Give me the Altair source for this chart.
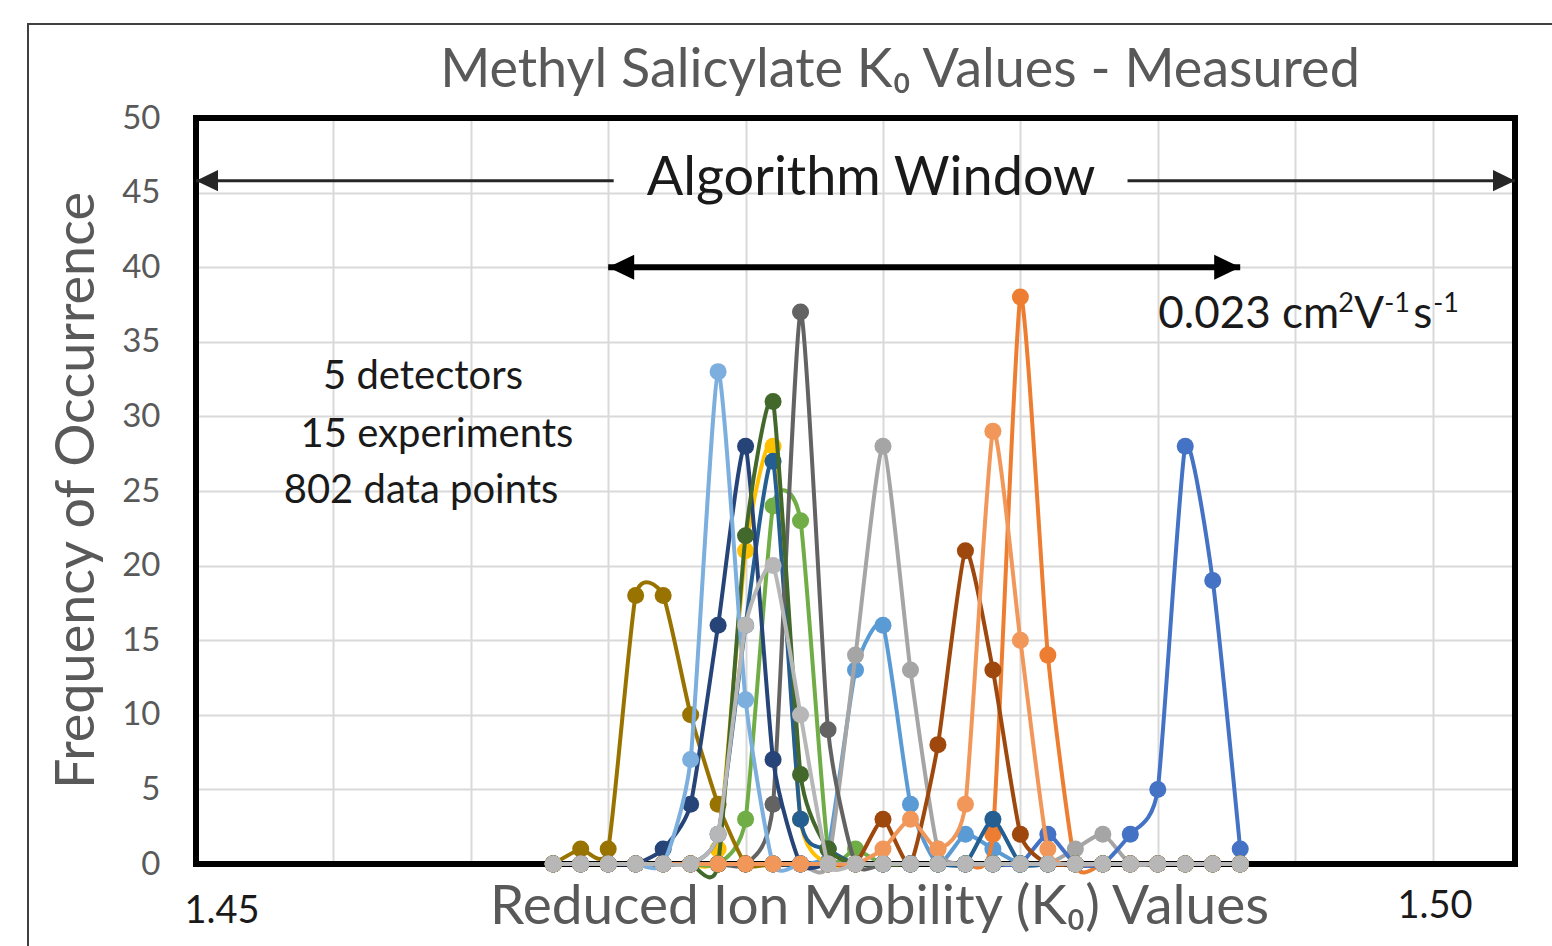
import altair as alt
import pandas as pd

# Reduced ion mobility bins (cm^2 V^-1 s^-1) shared by every run
K0 = [1.463, 1.464, 1.465, 1.466, 1.467, 1.468, 1.469, 1.470, 1.471,
      1.472, 1.473, 1.474, 1.475, 1.476, 1.477, 1.478, 1.479, 1.480,
      1.481, 1.482, 1.483, 1.484, 1.485, 1.486, 1.487, 1.488]

# Frequency of occurrence per bin, one list per experiment
run_01 = [0, 0, 0, 0, 0, 0, 0, 0, 0, 0, 1, 13, 16, 4, 0, 2, 1, 0, 0, 0, 0, 0, 0, 0, 0, 0]
run_02 = [0, 0, 0, 0, 0, 0, 0, 0, 0, 0, 0, 0, 0, 0, 0, 0, 2, 38, 14, 0, 0, 0, 0, 0, 0, 0]
run_03 = [0, 0, 0, 0, 0, 0, 0, 0, 0, 0, 0, 14, 28, 13, 1, 0, 0, 0, 0, 1, 2, 0, 0, 0, 0, 0]
run_04 = [0, 0, 0, 0, 0, 0, 1, 21, 28, 3, 0, 0, 0, 0, 0, 0, 0, 0, 0, 0, 0, 0, 0, 0, 0, 0]
run_05 = [0, 0, 0, 0, 0, 0, 0, 0, 0, 0, 0, 0, 0, 0, 0, 0, 0, 0, 2, 0, 0, 2, 5, 28, 19, 1]
run_06 = [0, 0, 0, 0, 0, 0, 0, 3, 24, 23, 1, 1, 0, 0, 0, 0, 0, 0, 0, 0, 0, 0, 0, 0, 0, 0]
run_07 = [0, 0, 0, 0, 0, 0, 2, 16, 27, 3, 1, 0, 0, 0, 0, 0, 3, 0, 0, 0, 0, 0, 0, 0, 0, 0]
run_08 = [0, 0, 0, 0, 0, 0, 0, 0, 0, 0, 0, 0, 3, 0, 8, 21, 13, 2, 0, 0, 0, 0, 0, 0, 0, 0]
run_09 = [0, 0, 0, 0, 0, 0, 0, 0, 4, 37, 9, 0, 0, 0, 0, 0, 0, 0, 0, 0, 0, 0, 0, 0, 0, 0]
run_10 = [0, 1, 1, 18, 18, 10, 4, 0, 0, 0, 0, 0, 0, 0, 0, 0, 0, 0, 0, 0, 0, 0, 0, 0, 0, 0]
run_11 = [0, 0, 0, 0, 1, 4, 16, 28, 7, 0, 0, 0, 0, 0, 0, 0, 0, 0, 0, 0, 0, 0, 0, 0, 0, 0]
run_12 = [0, 0, 0, 0, 0, 0, 0, 22, 31, 6, 1, 0, 0, 0, 0, 0, 0, 0, 0, 0, 0, 0, 0, 0, 0, 0]
run_13 = [0, 0, 0, 0, 0, 7, 33, 11, 0, 0, 0, 0, 0, 0, 0, 0, 0, 0, 0, 0, 0, 0, 0, 0, 0, 0]
run_14 = [0, 0, 0, 0, 0, 0, 0, 0, 0, 0, 0, 0, 1, 3, 1, 4, 29, 15, 1, 0, 0, 0, 0, 0, 0, 0]
run_15 = [0, 0, 0, 0, 0, 0, 2, 16, 20, 10, 0, 0, 0, 0, 0, 0, 0, 0, 0, 0, 0, 0, 0, 0, 0, 0]

RUNS = [run_01, run_02, run_03, run_04, run_05, run_06, run_07, run_08,
        run_09, run_10, run_11, run_12, run_13, run_14, run_15]
RUN_COLORS = ["#5B9BD5", "#ED7D31", "#A5A5A5", "#FFC000", "#4472C4",
              "#70AD47", "#255E91", "#9E480E", "#636363", "#997300",
              "#264478", "#43682B", "#7CAFDD", "#F1975A", "#B7B7B7"]

GRID_K0 = [1.450, 1.455, 1.460, 1.465, 1.470, 1.475, 1.480, 1.485, 1.490, 1.495]
FREQ_TICKS = [0, 5, 10, 15, 20, 25, 30, 35, 40, 45, 50]

FONT = "Lato"
GREY_TEXT = "#595959"
INK = "#1a1a1a"
W, H = 1319, 746

rows = []
for n, counts in enumerate(RUNS):
    for k, c in zip(K0, counts):
        rows.append({"run": f"Run {n + 1}", "k0": k, "count": c})
df = pd.DataFrame(rows)

x_scale = alt.Scale(domain=[1.450, 1.498], nice=False, zero=False)
y_scale = alt.Scale(domain=[0, 50], nice=False, zero=True)

x_axis = alt.Axis(
    values=GRID_K0, labels=False, ticks=False, domain=False,
    grid=True, gridColor="#d9d9d9", gridWidth=2,
    title="Reduced Ion Mobility (K₀) Values", titleFont=FONT,
    titleFontSize=55, titleFontWeight="normal", titleColor=GREY_TEXT,
    titleX=683, titleY=59, titleBaseline="alphabetic", titleAlign="center",
)
y_axis = alt.Axis(
    values=FREQ_TICKS, ticks=False, domain=False,
    grid=True, gridColor="#d9d9d9", gridWidth=2,
    labelFont=FONT, labelFontSize=33, labelColor=GREY_TEXT, labelPadding=36,
    title="Frequency of Occurrence", titleFont=FONT, titleFontSize=54,
    titleFontWeight="normal", titleColor=GREY_TEXT, titleAngle=270,
    titleX=-103, titleY=372, titleBaseline="alphabetic", titleAlign="center",
)


def xq(field="k0"):
    return alt.X(f"{field}:Q", scale=x_scale, axis=x_axis)


def yq(field="count"):
    return alt.Y(f"{field}:Q", scale=y_scale, axis=y_axis)


one_row = pd.DataFrame({"i": [0]})

# plot-area frame (drawn beneath the series so markers sit on top of it)
plot_frame = alt.Chart(one_row).mark_rect(
    filled=False, stroke="black", strokeWidth=6
).encode(x=alt.value(0), x2=alt.value(W), y=alt.value(0), y2=alt.value(H))

# thin outer border of the chart object
outer_frame = alt.Chart(one_row).mark_rect(
    filled=False, stroke="#404040", strokeWidth=2
).encode(x=alt.value(-168), x2=alt.value(W + 60), y=alt.value(-94), y2=alt.value(H + 120))

layers = [outer_frame, plot_frame]
base = alt.Chart(df)
for n, color in enumerate(RUN_COLORS):
    name = f"Run {n + 1}"
    sel = base.transform_filter(alt.datum.run == name)
    layers.append(sel.mark_line(interpolate="cardinal", tension=0.45, strokeWidth=4, color=color)
                  .encode(x=xq(), y=yq()))
    layers.append(sel.mark_point(filled=True, size=290, opacity=1, color=color)
                  .encode(x=xq(), y=yq()))

# arrow shafts
shafts = pd.DataFrame({
    "k0": [1.450, 1.4839, 1.465],
    "k0_end": [1.4652, 1.498, 1.488],
    "count": [45.8, 45.8, 40.0],
    "w": ["thin", "thin", "thick"],
})
thin_shafts = alt.Chart(shafts).transform_filter(alt.datum.w == "thin").mark_rule(
    strokeWidth=3, color="#262626").encode(x=xq(), x2="k0_end:Q", y=yq())
thick_shaft = alt.Chart(shafts).transform_filter(alt.datum.w == "thick").mark_rule(
    strokeWidth=6, color="black").encode(x=xq(), x2="k0_end:Q", y=yq())

# arrow heads: custom paths with the tip at the symbol origin
LEFT_HEAD = "M0,0L1,-0.48L1,0.48Z"
RIGHT_HEAD = "M0,0L-1,-0.48L-1,0.48Z"
heads = pd.DataFrame({
    "k0": [1.450, 1.498, 1.465, 1.488],
    "count": [45.8, 45.8, 40.0, 40.0],
    "dir": ["left", "right", "left", "right"],
    "w": ["thin", "thin", "thick", "thick"],
})
head_shape = alt.Shape("dir:N", scale=alt.Scale(domain=["left", "right"],
                                                range=[LEFT_HEAD, RIGHT_HEAD]), legend=None)
thin_heads = alt.Chart(heads).transform_filter(alt.datum.w == "thin").mark_point(
    filled=True, size=1936, color="#262626", opacity=1, strokeWidth=0
).encode(x=xq(), y=yq(), shape=head_shape)
thick_heads = alt.Chart(heads).transform_filter(alt.datum.w == "thick").mark_point(
    filled=True, size=2704, color="black", opacity=1, strokeWidth=0
).encode(x=xq(), y=yq(), shape=head_shape)

# in-plot annotations
notes = pd.DataFrame({
    "k0": [1.47457, 1.45826, 1.45877, 1.45819],
    "count": [44.84, 31.84, 27.95, 24.2],
    "label": ["Algorithm  Window", "5 detectors", "15 experiments", "802 data points"],
    "size": [54, 40, 40, 40],
})
note_text = alt.Chart(notes).mark_text(
    font=FONT, align="center", baseline="alphabetic", color=INK
).encode(x=xq(), y=yq(), text="label:N", size=alt.Size("size:Q", scale=None, legend=None))

# window width label, with its unit exponents set as raised smaller text
width_anchor = pd.DataFrame({"k0": [1.48502], "count": [35.9]})
width_pieces = [
    ("0.023 cm", 0, 0, 44),
    ("2", 180, -16, 27),
    ("V", 196, 0, 44),
    ("-1", 226, -16, 27),
    ("s", 255, 0, 44),
    ("-1", 275, -16, 27),
]
width_layers = [
    alt.Chart(width_anchor).mark_text(
        text=txt, dx=dx, dy=dy, fontSize=fs, font=FONT, align="left",
        baseline="alphabetic", color=INK
    ).encode(x=xq(), y=yq())
    for txt, dx, dy, fs in width_pieces
]

# chart title and end labels of the K0 axis
title_text = alt.Chart(one_row).mark_text(
    text="Methyl Salicylate K₀ Values - Measured", font=FONT, fontSize=54,
    color=GREY_TEXT, align="center", baseline="alphabetic"
).encode(x=alt.value(704), y=alt.value(-31))
left_end = alt.Chart(one_row).mark_text(
    text="1.45", font=FONT, fontSize=38, color=INK, align="center", baseline="alphabetic"
).encode(x=alt.value(26), y=alt.value(805))
right_end = alt.Chart(one_row).mark_text(
    text="1.50", font=FONT, fontSize=38, color=INK, align="center", baseline="alphabetic"
).encode(x=alt.value(1239), y=alt.value(800))

layers += [thin_shafts, thin_heads, thick_shaft, thick_heads, note_text]
layers += width_layers
layers += [title_text, left_end, right_end]

chart = alt.layer(*layers).properties(
    width=W, height=H,
    autosize=alt.AutoSizeParams(type="none"),
    padding={"left": 196, "top": 118, "right": 37, "bottom": 82},
    background="white",
).configure_view(stroke=None)

chart.save("out.html", embed_options={"renderer": "svg", "actions": False})
